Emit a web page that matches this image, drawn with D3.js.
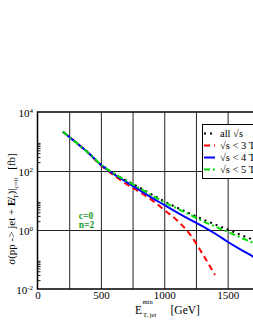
<!DOCTYPE html>
<html>
<head>
<meta charset="utf-8">
<script src="https://cdn.jsdelivr.net/npm/d3@7"></script>
<style>
  body { margin: 0; background: #fff; }
  svg { display: block; font-family: "Liberation Serif", "DejaVu Serif", serif; }
</style>
</head>
<body>
<script>
const w = 253;
const h = 327;

// data (sigma in fb)
const energies = [200, 300, 400, 500, 600, 700, 800, 900, 1000, 1100, 1200, 1300, 1400, 1500, 1600, 1700, 1800];
const sigmaAll = [2140, 955, 417, 166, 83.2, 47.9, 28.2, 16.2, 9.33, 5.75, 3.63, 2.34, 1.55, 1.05, 0.69, 0.47, 0.32];
const sigma3 = [2140, 955, 417, 155, 72.4, 36.3, 20.0, 10.5, 4.79, 2.14, 0.74, 0.16, 0.030];
const sigma4 = [2140, 955, 417, 162, 79.4, 42.7, 23.4, 12.6, 7.08, 3.98, 2.29, 1.35, 0.76, 0.40, 0.22, 0.126, 0.071];
const sigma5 = [2140, 955, 417, 166, 83.2, 46.8, 26.9, 15.1, 8.71, 5.37, 3.31, 2.04, 1.32, 0.87, 0.56, 0.37, 0.25];

const xTicks = [0, 500, 1000, 1500];
const xGrid = [250, 500, 750, 1000, 1250, 1500, 1750];
const yTicks = [1e-2, 1e0, 1e2, 1e4];
const yExps = ["-2", "0", "2", "4"];
const legendLabels = ["all \u221As", "\u221As < 3 TeV", "\u221As < 4 TeV", "\u221As < 5 TeV"];

const series = [
    {vals: sigmaAll, color: "#000", dash: "2,4"},
    {vals: sigma3, color: "#ff0000", dash: "6,4"},
    {vals: sigma4, color: "#0000ff", dash: null},
    {vals: sigma5, color: "#00e000", dash: "6,3,2,3"}
];

const x = d3.scaleLinear().domain([0, 2000]).range([37.5, 291]);
const y = d3.scaleLog().domain([1e-2, 1e4]).range([289, 112]);

const svg = d3.select("body").append("svg").attr("width", w).attr("height", h);

//grid
svg.append("g")
    .attr("transform", "translate(0,289)")
    .call(d3.axisBottom(x).tickValues(xGrid).tickSize(-177).tickFormat(""))
    .call(g => g.select(".domain").remove())
    .selectAll("line").attr("stroke", "#222").attr("stroke-width", 1);

svg.append("g")
    .attr("transform", "translate(37.5,0)")
    .call(d3.axisLeft(y).tickValues([1e0, 1e2]).tickSize(-260).tickFormat(""))
    .call(g => g.select(".domain").remove())
    .selectAll("line").attr("stroke", "#222").attr("stroke-width", 1);

//minor ticks on left axis
let minor = [];
[1e-2, 1e0, 1e2].forEach(b => { for (let k = 2; k <= 9; k++) minor.push(b * k); });
svg.append("g")
    .attr("transform", "translate(37.5,0)")
    .call(d3.axisLeft(y).tickValues(minor).tickSize(-3).tickFormat(""))
    .call(g => g.select(".domain").remove())
    .selectAll("line").attr("stroke", "#222").attr("stroke-width", 1);

//curves
const line = d3.line()
    .x((d, i) => x(energies[i]))
    .y(d => y(d))
    .curve(d3.curveMonotoneX);

svg.append("g").selectAll("path")
    .data(series)
    .enter().append("path")
        .attr("d", d => line(d.vals))
        .attr("fill", "none")
        .attr("stroke", d => d.color)
        .attr("stroke-width", 2)
        .attr("stroke-dasharray", d => d.dash);

//frame
svg.append("path")
    .attr("d", "M" + x(2000) + ",112H37.5V289H" + x(2000))
    .attr("fill", "none")
    .attr("stroke", "#000")
    .attr("stroke-width", 1.5);

//x tick labels
svg.append("g")
    .attr("transform", "translate(0,289)")
    .call(d3.axisBottom(x).tickValues(xTicks).tickSize(0).tickPadding(2).tickFormat(d3.format("d")))
    .call(g => g.select(".domain").remove())
    .selectAll("text")
        .attr("font-family", "Liberation Serif")
        .attr("font-size", 11)
        .attr("fill", "#000");

//y tick labels
const yAxis = svg.append("g")
    .attr("transform", "translate(33,0)")
    .call(d3.axisLeft(y).tickValues(yTicks).tickSize(0).tickPadding(0).tickFormat(""))
    .call(g => g.select(".domain").remove());

yAxis.selectAll(".tick text")
    .attr("font-family", "Liberation Serif")
    .attr("font-size", 11)
    .attr("fill", "#000")
    .attr("dy", "0.4em")
    .each(function(d, i) {
        let t = d3.select(this);
        t.append("tspan").text("10");
        t.append("tspan").attr("dy", -4).attr("font-size", 7).text(yExps[i]);
    });

//legend
const legend = svg.append("g").attr("id", "legend");
legend.append("rect")
    .attr("x", 202.5).attr("y", 124.5)
    .attr("width", 100).attr("height", 54)
    .attr("fill", "#fff")
    .attr("stroke", "#000")
    .attr("stroke-width", 1);

const item = legend.selectAll(".legend-item")
    .data(series)
    .enter().append("g")
        .attr("class", "legend-item")
        .attr("transform", (d, i) => "translate(0," + (133.5 + i * 12) + ")");

item.append("line")
    .attr("x1", 204).attr("x2", 215)
    .attr("stroke", d => d.color)
    .attr("stroke-width", 2)
    .attr("stroke-dasharray", d => d.dash);

item.append("text")
    .attr("x", 220)
    .attr("y", 3.5)
    .attr("font-size", 10.5)
    .text((d, i) => legendLabels[i]);

//annotation
svg.append("text")
    .attr("x", 86).attr("y", 219)
    .attr("text-anchor", "middle")
    .attr("font-size", 9.5).attr("font-weight", "bold")
    .attr("fill", "#1e9a1e")
    .text("c=0");
svg.append("text")
    .attr("x", 86.5).attr("y", 227.5)
    .attr("text-anchor", "middle")
    .attr("font-size", 9.5).attr("font-weight", "bold")
    .attr("fill", "#1e9a1e")
    .text("n=2");

//x label
const xl = svg.append("text")
    .attr("x", 135).attr("y", 314)
    .attr("font-size", 11.5);
xl.append("tspan").text("E");
xl.append("tspan").attr("font-size", 6.5).attr("dx", 0.5).attr("dy", -10).text("min");
xl.append("tspan").attr("font-size", 6.5).attr("x", 143).attr("dy", 13).text("T, jet");
xl.append("tspan").attr("x", 170.5).attr("dy", -3).text("[GeV]");

//y label
const yl = svg.append("text")
    .attr("transform", "translate(15,209) rotate(-90)")
    .attr("text-anchor", "middle")
    .attr("font-size", 11);
yl.append("tspan").text("\u03C3(pp -> jet + ");
yl.append("tspan").attr("font-weight", "bold").text("E\u0338");
yl.append("tspan").attr("font-size", 7).attr("dy", 3).text("T");
yl.append("tspan").attr("dy", -3).text(")|");
yl.append("tspan").attr("font-size", 7).attr("dy", 3).text("c=0");
yl.append("tspan").attr("dy", -3).text("\u00A0\u00A0\u00A0[fb]");
</script>
</body>
</html>
